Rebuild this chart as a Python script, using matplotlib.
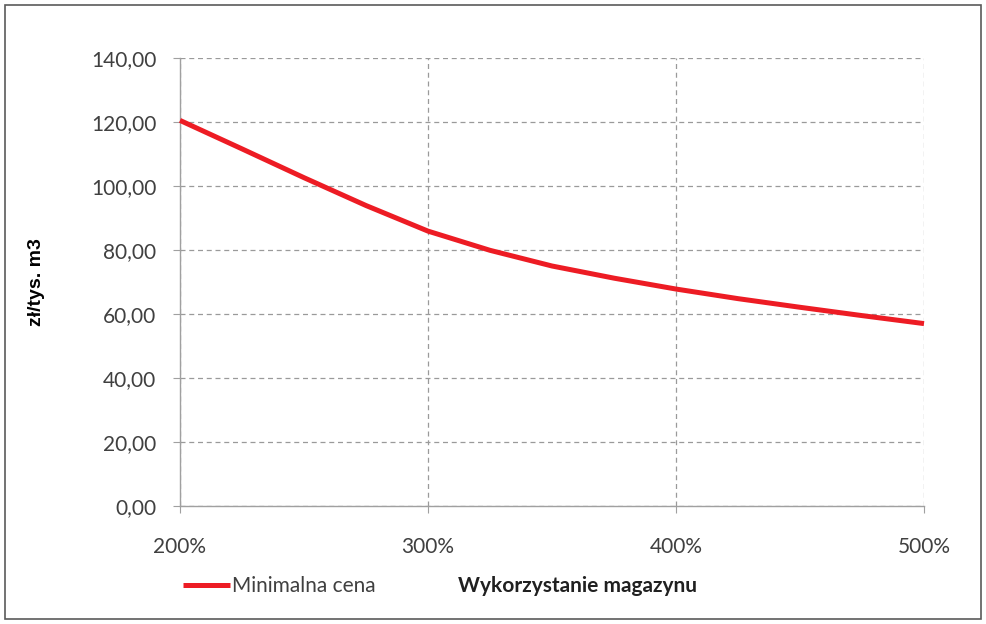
import matplotlib.pyplot as plt
from matplotlib.patches import Rectangle
from matplotlib.ticker import FuncFormatter

# data
wykorzystanie = [200, 225, 250, 275, 300, 325, 350, 375, 400, 425, 450, 475, 500]
minimalna_cena = [120.5, 111.6, 102.6, 93.9, 85.9, 79.9, 75.0, 71.2, 67.8, 64.8, 62.1, 59.5, 57.0]
x_ticks = [200, 300, 400, 500]
y_ticks = [0, 20, 40, 60, 80, 100, 120, 140]

plt.rcParams['font.family'] = ['Lato', 'DejaVu Sans']

fig = plt.figure(figsize=(9.86, 6.24), dpi=100)
ax = fig.add_axes([180/986, 1-506/624, (924-180)/986, (506-58)/624])

ax.plot(wykorzystanie, minimalna_cena, color='#ED1C24', lw=3.6,
        solid_capstyle='butt', solid_joinstyle='round', label='Minimalna cena',
        clip_on=False, zorder=5)

ax.set_xlim(200, 500)
ax.set_ylim(0, 140)
ax.set_xticks(x_ticks)
ax.set_yticks(y_ticks)
ax.xaxis.set_major_formatter(FuncFormatter(lambda v, p: '%d%%' % v))
ax.yaxis.set_major_formatter(FuncFormatter(lambda v, p: ('%.2f' % v).replace('.', ',')))

ax.grid(True, color='#9a9a9a', linestyle=(0, (4, 3)), lw=0.9)
for s in ['top', 'right']:
    ax.spines[s].set_visible(False)
for s in ['left', 'bottom']:
    ax.spines[s].set_color('#a0a0a0')
    ax.spines[s].set_linewidth(1.0)
ax.tick_params(axis='y', length=5, color='#a0a0a0', pad=12, labelsize=15, labelcolor='#404040')
ax.tick_params(axis='x', length=5, color='#a0a0a0', pad=17, labelsize=15, labelcolor='#404040')

ax.set_ylabel('zł/tys. m3', fontsize=14, fontweight='bold', family='Liberation Sans',
              labelpad=0)
ax.yaxis.set_label_coords(-0.182, 0.5)

fig.legend(loc='center left', bbox_to_anchor=(183/986, 1-586/624), frameon=False,
           fontsize=15, handlelength=2.25, handletextpad=0.1, borderpad=0,
           borderaxespad=0, labelcolor='#404040')
fig.text(458/986, 1-586/624, 'Wykorzystanie magazynu', fontsize=15, fontweight='bold',
         va='center', ha='left', color='#202020')

fig.patches.append(Rectangle((5/986, 5/624), 976/986, 614/624, transform=fig.transFigure,
                             fill=False, edgecolor='#5a5a5a', lw=1.2))

fig.savefig('out.png', dpi=100)
